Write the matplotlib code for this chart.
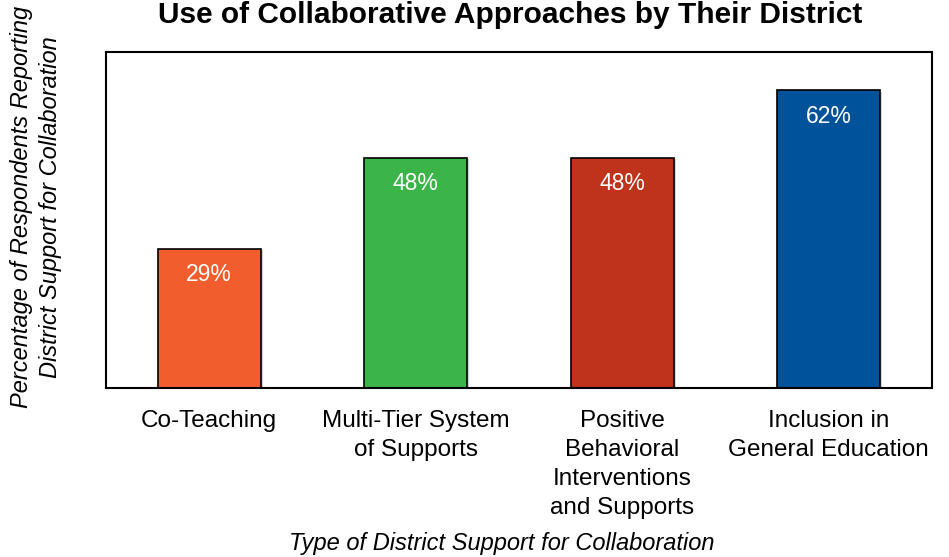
import matplotlib.pyplot as plt
import matplotlib.patheffects as pe

categories = ["Co-Teaching", "Multi-Tier System\nof Supports",
              "Positive\nBehavioral\nInterventions\nand Supports",
              "Inclusion in\nGeneral Education"]
values = [29, 48, 48, 62]
colors = ["#F15D2C", "#3BB54A", "#BF321B", "#00539B"]

plt.rcParams['font.family'] = ['Liberation Sans', 'DejaVu Sans']

fig = plt.figure(figsize=(9.49, 5.57), dpi=100)
ax = fig.add_axes([0.1117, 0.3034, 0.8704, 0.6032])

x = range(len(values))
bars = ax.bar(x, values, width=0.5, color=colors, edgecolor="black", linewidth=1.2)
for b in bars:
    b.set_path_effects([pe.SimplePatchShadow(offset=(1.5, -1), shadow_rgbFace="grey", alpha=0.35),
                        pe.Normal()])

# подписи значений внутри столбцов
for xi, v in zip(x, values):
    ax.text(xi, v - 5.4, f"{v}%", ha="center", va="center", color="white", fontsize=16.5)

ax.set_xlim(-0.5, 3.5)
ax.set_ylim(0, 70)
ax.set_yticks([])
ax.set_xticks(list(x))
ax.set_xticklabels(categories, fontsize=17.5, linespacing=1.4)
ax.tick_params(axis="x", length=0, pad=16)
for s in ax.spines.values():
    s.set_linewidth(1.5)

fig.text(0.5375, 0.973, "Use of Collaborative Approaches by Their District",
         ha="center", va="center", fontsize=21.5, fontweight="bold",
         family=['DejaVu Sans Condensed', 'Liberation Sans', 'DejaVu Sans'])
fig.text(0.038, 0.628, "Percentage of Respondents Reporting\nDistrict Support for Collaboration",
         ha="center", va="center", rotation=90, fontsize=17, style="italic", linespacing=1.35)
fig.text(0.529, 0.025, "Type of District Support for Collaboration",
         ha="center", va="center", fontsize=17, style="italic")

fig.savefig("out.png", dpi=100)
